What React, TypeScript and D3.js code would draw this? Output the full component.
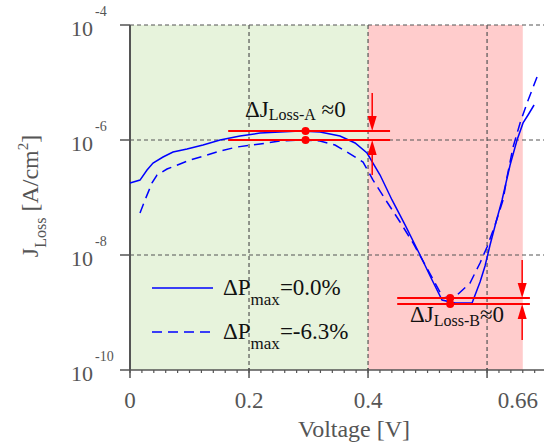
import React from "react";
import * as d3 from "d3";

// Solid curve: ΔPmax = 0.0%
const voltSolid = [0, 0.0168, 0.0286, 0.0387, 0.0555, 0.0723, 0.0958, 0.1227, 0.1513, 0.1849, 0.2185, 0.2521, 0.2857, 0.3193, 0.3529, 0.3782, 0.3983, 0.4202, 0.4403, 0.4622, 0.4874, 0.5076, 0.5244, 0.5462, 0.5748, 0.5882, 0.5966, 0.605, 0.6151, 0.6252, 0.6387, 0.6504, 0.6605, 0.6689, 0.679];
const jSolid = [1.79e-7, 2.01e-7, 3.01e-7, 3.98e-7, 5.06e-7, 6.18e-7, 6.97e-7, 8.18e-7, 1.0e-6, 1.17e-6, 1.32e-6, 1.38e-6, 1.44e-6, 1.38e-6, 1.17e-6, 8.87e-7, 5.94e-7, 2.46e-7, 9.06e-8, 3.33e-8, 1.0e-8, 3.67e-9, 1.65e-9, 1.46e-9, 1.46e-9, 3.39e-9, 6.44e-9, 1.49e-8, 3.75e-8, 9.06e-8, 3.67e-7, 1.0e-6, 1.98e-6, 2.72e-6, 4.06e-6];

// Dashed curve: ΔPmax = -6.3%
const voltDashed = [0.0168, 0.0252, 0.037, 0.0454, 0.0622, 0.084, 0.1008, 0.1294, 0.1513, 0.1798, 0.2185, 0.2521, 0.2857, 0.3193, 0.3445, 0.3647, 0.3916, 0.4084, 0.4319, 0.4538, 0.4756, 0.5008, 0.5261, 0.5496, 0.5714, 0.5882, 0.6, 0.6134, 0.6269, 0.6336, 0.6437, 0.6555, 0.6672, 0.684, 0.6908];
const jDashed = [5.37e-8, 9.06e-8, 1.79e-7, 2.46e-7, 3.13e-7, 3.83e-7, 4.49e-7, 5.48e-7, 6.44e-7, 7.55e-7, 8.51e-7, 9.61e-7, 1.0e-6, 9.61e-7, 8.18e-7, 6.18e-7, 4.14e-7, 2.01e-7, 8.36e-8, 3.75e-8, 1.62e-8, 5.48e-9, 1.79e-9, 2.01e-9, 3.26e-9, 7.26e-9, 1.38e-8, 3.33e-8, 9.06e-8, 2.28e-7, 7.55e-7, 1.98e-6, 4.4e-6, 1.25e-5, 1.3e-5];

const yTickExps = [-4, -6, -8, -10];
const yGridExps = [-4, -6, -8];
const xGridVals = [0.2, 0.4, 0.6];
const xLabelVals = [0, 0.2, 0.4, 0.66];
const xLabelText = ["0", "0.2", "0.4", "0.66"];
const xMajorTicks = [0, 0.2, 0.4, 0.6];
const regionA = [0, 0.4];
const regionB = [0.4, 0.66];

// Annotation A (near maximum power region)
const annA = { v: 0.295, jTop: 1.44e-6, jBot: 1.0e-6, v0: 0.165, v1: 0.437, vArrow: 0.407 };
// Annotation B (valley)
const annB = { v: 0.538, jTop: 1.79e-9, jBot: 1.41e-9, v0: 0.449, v1: 0.672, vArrow: 0.659 };

const legendLabels = ["=0.0%", "=-6.3%"];

const W = 544;
const H = 443;
const FONT = "'Liberation Serif', 'Times New Roman', serif";
const AX = "#555";

export default function App() {
  const x = d3.scaleLinear().domain([0, 0.694]).range([130, 543]);
  const y = d3.scaleLog().domain([1e-10, 1e-4]).range([370, 25]);
  const line = d3
    .line<[number, number]>()
    .x((d) => x(d[0]))
    .y((d) => y(d[1]));
  const solidPts = voltSolid.map((v, i) => [v, jSolid[i]] as [number, number]);
  const dashedPts = voltDashed.map((v, i) => [v, jDashed[i]] as [number, number]);
  const minor = d3.range(0, 0.69, 0.02);
  const top = y(1e-4);
  const bot = y(1e-10);
  const red = "#ff0000";

  const arrow = (xa: number, yLine: number, dir: number, len: number) => {
    // dir = 1: pointing down to yLine from above; dir = -1: pointing up from below
    const yStart = yLine - dir * len;
    const head = 15;
    const hw = 4.5;
    return (
      <g>
        <line x1={xa} x2={xa} y1={yStart} y2={yLine - dir * head} stroke={red} strokeWidth={1.5} />
        <path
          d={`M${xa - hw},${yLine - dir * head} L${xa + hw},${yLine - dir * head} L${xa},${yLine} Z`}
          fill={red}
        />
      </g>
    );
  };

  return (
    <svg
      width={W}
      height={H}
      style={{ position: "absolute", left: 0, top: 0, background: "#fff" }}
      fontFamily={FONT}
    >
      {/* shaded regions */}
      <rect x={x(regionA[0])} y={top} width={x(regionA[1]) - x(regionA[0])} height={bot - top} fill="#e7f3dc" />
      <rect x={x(regionB[0])} y={top} width={x(regionB[1]) - x(regionB[0])} height={bot - top} fill="#ffcccc" />

      {/* grid */}
      {yGridExps.map((e) => (
        <line key={"gy" + e} x1={130} x2={544} y1={y(Math.pow(10, e))} y2={y(Math.pow(10, e))} stroke={AX} strokeWidth={1.2} strokeDasharray="4,3" />
      ))}
      {xGridVals.map((v) => (
        <line key={"gx" + v} x1={x(v)} x2={x(v)} y1={top} y2={bot} stroke={AX} strokeWidth={1.2} strokeDasharray="4,3" />
      ))}

      {/* axes */}
      <line x1={130} x2={130} y1={top} y2={bot} stroke={AX} strokeWidth={2} />
      <line x1={129} x2={544} y1={bot} y2={bot} stroke={AX} strokeWidth={1.5} />
      {yTickExps.map((e) => {
        const yy = y(Math.pow(10, e));
        return (
          <g key={"yt" + e}>
            <line x1={120} x2={130} y1={yy} y2={yy} stroke={AX} strokeWidth={1.5} />
            <text x={93} y={yy + 11} textAnchor="end" fontSize={22} fill={AX}>10</text>
            <text x={95} y={yy - 9} fontSize={14} fill={AX}>{String(e)}</text>
          </g>
        );
      })}
      {minor.map((v) => (
        <line key={"mt" + v} x1={x(v)} x2={x(v)} y1={bot} y2={bot + 3} stroke={AX} strokeWidth={1.2} />
      ))}
      {xMajorTicks.map((v) => (
        <line key={"Mt" + v} x1={x(v)} x2={x(v)} y1={bot - 2} y2={bot + 8} stroke={AX} strokeWidth={1.5} />
      ))}
      {xLabelVals.map((v, i) => (
        <text key={"xl" + v} x={x(v) - (v > 0.6 ? 5 : 0)} y={408} textAnchor="middle" fontSize={23} fill={AX}>
          {xLabelText[i]}
        </text>
      ))}
      <text x={354} y={437} textAnchor="middle" fontSize={24} fill={AX}>Voltage [V]</text>
      <text transform="rotate(-90)" x={-196} y={38} textAnchor="middle" fontSize={24} fill={AX}>
        J<tspan fontSize={16} dy={8}>Loss</tspan>
        <tspan dy={-8}> [A/cm</tspan>
        <tspan fontSize={15} dy={-10}>2</tspan>
        <tspan dy={10}>]</tspan>
      </text>

      {/* curves */}
      <path d={line(solidPts) || ""} fill="none" stroke="#0000ff" strokeWidth={1.5} />
      <path d={line(dashedPts) || ""} fill="none" stroke="#0000ff" strokeWidth={1.5} strokeDasharray="10,6" />

      {/* annotation A */}
      <line x1={x(annA.v0)} x2={x(annA.v1)} y1={y(annA.jTop)} y2={y(annA.jTop)} stroke={red} strokeWidth={2} />
      <line x1={x(annA.v0)} x2={x(annA.v1)} y1={y(annA.jBot)} y2={y(annA.jBot)} stroke={red} strokeWidth={2} />
      <circle cx={x(annA.v)} cy={y(annA.jTop)} r={4} fill={red} />
      <circle cx={x(annA.v)} cy={y(annA.jBot)} r={4} fill={red} />
      {arrow(x(annA.vArrow), y(annA.jTop), 1, 38)}
      {arrow(x(annA.vArrow), y(annA.jBot), -1, 35)}
      <text x={245} y={117} fontSize={23} fill="#111">
        ΔJ<tspan fontSize={16} dy={3}>Loss-A</tspan>
        <tspan dy={-3}> ≈0</tspan>
      </text>

      {/* annotation B */}
      <line x1={x(annB.v0)} x2={x(annB.v1)} y1={y(annB.jTop)} y2={y(annB.jTop)} stroke={red} strokeWidth={2} />
      <line x1={x(annB.v0)} x2={x(annB.v1)} y1={y(annB.jBot)} y2={y(annB.jBot)} stroke={red} strokeWidth={2} />
      <circle cx={x(annB.v)} cy={y(annB.jTop)} r={4} fill={red} />
      <circle cx={x(annB.v)} cy={y(annB.jBot)} r={4} fill={red} />
      {arrow(x(annB.vArrow), y(annB.jTop), 1, 38)}
      {arrow(x(annB.vArrow), y(annB.jBot), -1, 36)}
      <text x={410} y={322} fontSize={23} fill="#111">
        ΔJ<tspan fontSize={16} dy={4}>Loss-B</tspan>
        <tspan dy={-4}>≈0</tspan>
      </text>

      {/* legend */}
      {legendLabels.map((lab, i) => {
        const ly = 288 + i * 44;
        return (
          <g key={"lg" + i}>
            <line x1={152} x2={213} y1={ly} y2={ly} stroke="#0000ff" strokeWidth={1.5} strokeDasharray={i === 1 ? "10,6" : undefined} />
            <text x={223} y={ly + 7} fontSize={23} fill="#111">
              ΔP<tspan fontSize={17} dy={10}>max</tspan>
              <tspan dy={-10}>{lab}</tspan>
            </text>
          </g>
        );
      })}
    </svg>
  );
}
